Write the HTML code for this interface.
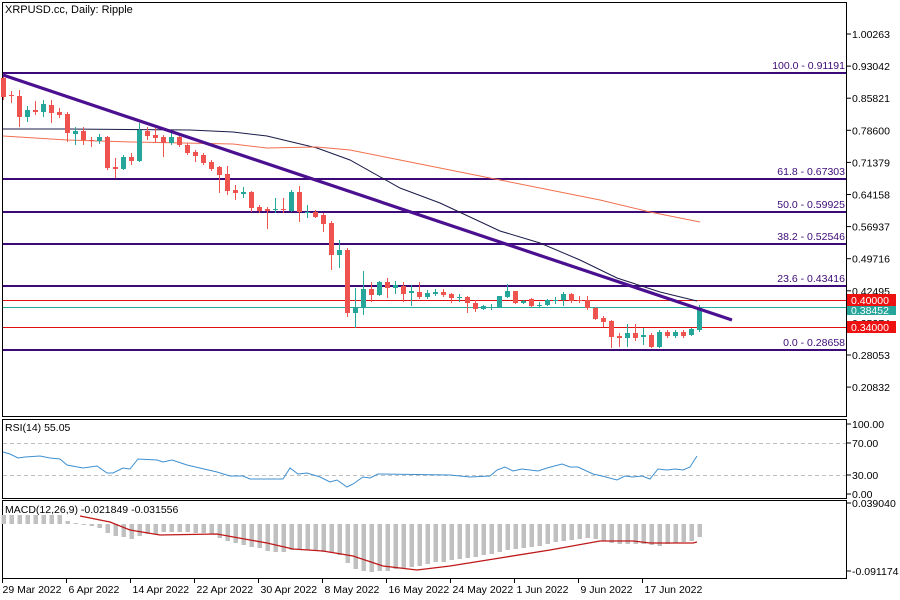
<!DOCTYPE html>
<html><head><meta charset="utf-8"><style>
body{margin:0;background:#fff;}
svg{display:block;font-family:"Liberation Sans",sans-serif;}
</style></head><body>
<svg id="c" width="900" height="600" viewBox="0 0 900 600" xmlns="http://www.w3.org/2000/svg">
<rect width="900" height="600" fill="#fff"/>
<text x="5" y="13" font-size="11" fill="#000">XRPUSD.cc, Daily:  Ripple</text>
</svg>
<script>
const S=document.getElementById('c'),NS='http://www.w3.org/2000/svg';
function el(t,a,txt){const e=document.createElementNS(NS,t);for(const k in a)e.setAttribute(k,a[k]);if(txt!=null)e.textContent=txt;S.appendChild(e);return e;}
el('rect',{x:2.5,y:2.5,width:844,height:414,fill:'none',stroke:'#000'});
el('rect',{x:2.5,y:419.5,width:844,height:79,fill:'none',stroke:'#000'});
el('rect',{x:2.5,y:500.5,width:844,height:78,fill:'none',stroke:'#000'});
const lab=['1.00263','0.93042','0.85821','0.78600','0.71379','0.64158','0.56937','0.49716','0.42495','0.35274','0.28053','0.20832'];
lab.forEach((t,i)=>{const y=34+32.1*i;el('line',{x1:847,x2:851,y1:y,y2:y,stroke:'#000'});el('text',{x:852,y:y+4,'font-size':10.5,fill:'#000'},t);});
const fib=[[73,'100.0 - 0.91191'],[179,'61.8 - 0.67303'],[212,'50.0 - 0.59925'],[244,'38.2 - 0.52546'],[286,'23.6 - 0.43416'],[350,'0.0 - 0.28658']];
fib.forEach(f=>{el('line',{x1:3,x2:846,y1:f[0],y2:f[0],stroke:'#3c0a78','stroke-width':2});el('text',{x:845,y:f[0]-4,'font-size':10.5,fill:'#3c0a78','text-anchor':'end'},f[1]);});
el('line',{x1:3,x2:846,y1:300.5,y2:300.5,stroke:'#e01010','stroke-width':1});
el('line',{x1:3,x2:846,y1:307.5,y2:307.5,stroke:'#26a69a','stroke-width':1});
el('line',{x1:3,x2:846,y1:327.5,y2:327.5,stroke:'#e01010','stroke-width':1});
function pl(pts,c,w){el('polyline',{points:pts.map(p=>p.join(',')).join(' '),fill:'none',stroke:c,'stroke-width':w||1});}
pl([[3,129],[67,129],[190,130],[233,132],[267,136],[317,148],[350,160],[400,188],[440,203],[500,231],[540,243],[580,260],[617,278],[660,292],[697,301]],'#1a1a4a',1);
pl([[3,136],[67,140],[133,142],[233,144],[267,148],[317,147],[350,150],[400,160],[450,170],[500,180],[560,192],[600,200],[650,212],[700,222]],'#f07050',1);
const C=[['r',78,97,75,100],['r',95,96,91,103],['r',96,117,90,127],['g',110,117,106,122],['r',110,112,101,115],['g',104,112,100,117],['r',105,113,100,123],['r',112,115,108,118],['r',114,133,112,142],['g',131,134,127,145],['r',131,140,127,145],['r',140,141,137,147],['g',137,141,134,144],['r',137,168,136,170],['r',167,169,158,178],['g',157,169,155,170],['r',157,161,153,165],['g',130,161,123,162],['r',131,136,127,140],['r',135,138,128,143],['r',137,143,135,157],['g',137,143,133,145],['r',137,145,135,147],['r',145,153,143,155],['r',152,156,150,162],['r',155,163,153,165],['r',162,169,160,171],['r',167,175,166,193],['r',174,191,166,195],['r',190,193,185,200],['g',192,194,187,198],['r',192,208,191,212],['r',207,211,205,213],['r',209,211,207,229],['g',209,210,198,213],['r',209,210,198,213],['g',192,211,190,212],['r',192,212,186,222],['g',212,213,205,218],['r',212,217,210,218],['r',215,224,213,232],['r',223,255,221,270],['g',250,255,240,268],['r',250,313,248,317],['g',307,313,288,328],['g',289,307,271,315],['r',289,295,282,302],['g',282,295,281,296],['r',282,288,278,298],['g',285,288,281,294],['r',286,294,282,302],['g',291,293,285,306],['r',292,297,282,299],['g',293,297,290,299],['g',292,294,289,296],['r',292,295,289,297],['r',294,298,293,303],['g',297,298,294,302],['r',297,303,296,313],['r',303,309,300,312],['g',306,309,305,310],['g',307,308,304,310],['g',296,307,296,307],['g',291,297,284,298],['r',291,303,291,304],['g',301,303,300,304],['r',299,306,298,307],['g',305,306,302,307],['g',300,305,299,306],['g',300,301,297,304],['g',294,300,292,306],['r',294,301,293,303],['r',300,301,296,303],['r',300,308,296,310],['r',308,319,307,320],['r',318,322,316,327],['r',321,337,320,348],['r',336,338,333,347],['g',333,338,324,347],['r',333,338,324,341],['g',335,337,328,345],['r',335,347,333,348],['g',332,347,330,348],['r',332,336,330,338],['g',332,336,330,338],['r',332,336,330,338],['g',329,335,328,336],['g',307,330,305,332]];
C.forEach((c,i)=>{const x=3.5+8*i,col=c[0]=='g'?'#26a69a':'#ef5350';
el('line',{x1:x,x2:x,y1:c[3],y2:c[4],stroke:col,'stroke-width':1});
el('rect',{x:x-2.5,y:c[1],width:5,height:Math.max(1,c[2]-c[1]),fill:col});});
el('line',{x1:3,y1:75,x2:732,y2:320,stroke:'#4a1090','stroke-width':3.2});
el('rect',{x:847,y:306,width:49,height:9,fill:'#26a69a'});
el('text',{x:851,y:314,'font-size':10.5,fill:'#fff'},'0.38452');
el('rect',{x:847,y:294,width:49,height:12,fill:'#ee1111'});
el('text',{x:851,y:304,'font-size':10.5,fill:'#fff'},'0.40000');
el('rect',{x:847,y:321,width:49,height:12,fill:'#ee1111'});
el('text',{x:851,y:331,'font-size':10.5,fill:'#fff'},'0.34000');
el('text',{x:5,y:431,'font-size':10.5,fill:'#000'},'RSI(14) 55.05');
[443.5,475.5].forEach(y=>el('line',{x1:3,x2:846,y1:y,y2:y,stroke:'#c0c0c0','stroke-dasharray':'4,3'}));
[[424,'100.00'],[443,'70.00'],[475,'30.00'],[494,'0.00']].forEach(a=>{el('line',{x1:847,x2:851,y1:a[0],y2:a[0],stroke:'#000'});el('text',{x:852,y:a[0]+4,'font-size':10.5,fill:'#000'},a[1]);});
pl([[3,452],[10,454],[18,458],[25,457],[40,456],[50,458],[60,459],[67,465],[83,468],[97,466],[107,473],[113,473],[123,468],[130,469],[138,459],[157,460],[163,462],[172,460],[187,465],[217,472],[230,476],[243,476],[250,479],[283,479],[290,468],[298,474],[307,473],[320,477],[330,482],[337,480],[347,487],[353,484],[363,477],[370,478],[378,474],[450,475],[470,477],[490,476],[497,470],[505,467],[513,471],[522,469],[538,471],[547,468],[562,464],[570,467],[578,467],[593,474],[602,476],[617,480],[625,476],[633,477],[642,476],[650,479],[658,469],[667,470],[675,469],[683,470],[690,467],[697,456]],'#3d8fd0',1);
el('text',{x:5,y:513,'font-size':10.5,fill:'#000'},'MACD(12,26,9) -0.021849 -0.031556');
[[503,'0.039040'],[571,'-0.091174']].forEach(a=>{el('line',{x1:847,x2:851,y1:a[0],y2:a[0],stroke:'#000'});el('text',{x:852,y:a[0]+4,'font-size':10.5,fill:'#000'},a[1]);});
const H=[515,515,515,515,515,515,515,515,521,523,524,526,528,533,536,537,539,536,534,534,532,532,532,532,533,533,534,538,541,543,545,547,548,551,552,552,550,550,550,551,552,553,555,563,569,571,572,571,571,569,568,567,566,564,562,562,560,559,558,557,555,554,552,550,549,548,547,546,544,542,541,540,539,538,539,541,543,544,544,544,544,545,546,544,543,542,541,537];
H.forEach((h,i)=>{const x=3.5+8*i;const z=524;el('rect',{x:x-2,y:Math.min(h,z),width:4.5,height:Math.max(1,Math.abs(h-z)),fill:'#c0c0c0'});});
pl([[80,516],[110,522],[130,530],[160,535],[217,534],[250,540],[267,543],[293,549],[323,551],[353,556],[383,566],[417,570],[450,566],[500,558],[550,550],[600,541],[633,541],[650,543],[693,543],[697,542]],'#c01818',1.3);
const D=['29 Mar 2022','6 Apr 2022','14 Apr 2022','22 Apr 2022','30 Apr 2022','8 May 2022','16 May 2022','24 May 2022','1 Jun 2022','9 Jun 2022','17 Jun 2022'];
D.forEach((t,i)=>{const x=2.5+64*i;el('line',{x1:x,x2:x,y1:579,y2:583,stroke:'#000'});el('text',{x:x+(i?2:0),y:593,'font-size':10.5,fill:'#000'},t);});
</script>
</body></html>
